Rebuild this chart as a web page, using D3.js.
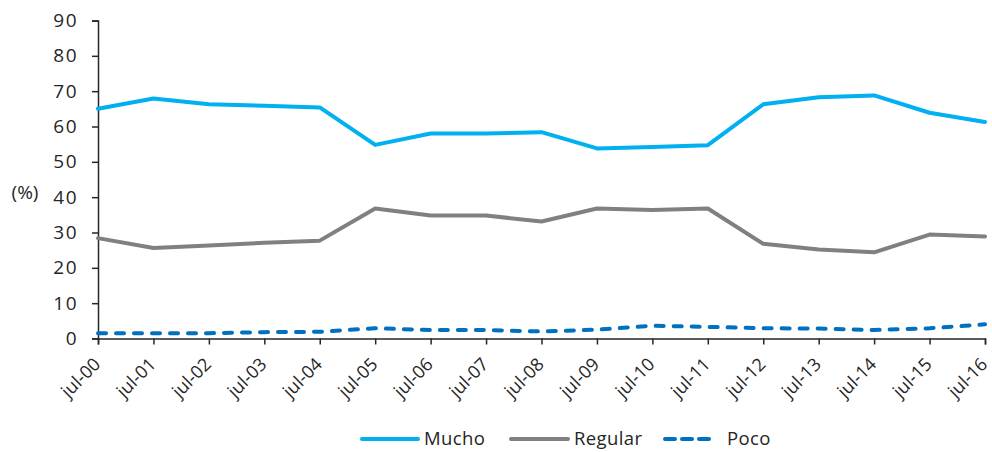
<!DOCTYPE html>
<html>
<head>
<meta charset="utf-8">
<script src="https://cdn.jsdelivr.net/npm/d3@7/dist/d3.min.js"></script>
<style>
  html, body { margin: 0; padding: 0; background: #fff; }
  svg { display: block; }
  text { font-family: "Open Sans", Lato, sans-serif; fill: #262626; }
</style>
</head>
<body>
<svg id="chart" width="992" height="452"></svg>
<script>
const categories = ["jul-00","jul-01","jul-02","jul-03","jul-04","jul-05","jul-06","jul-07","jul-08","jul-09","jul-10","jul-11","jul-12","jul-13","jul-14","jul-15","jul-16"];
const mucho   = [65.0, 67.9, 66.3, 65.9, 65.4, 54.8, 58.0, 58.0, 58.4, 53.8, 54.2, 54.7, 66.3, 68.3, 68.8, 63.9, 61.3];
const regular = [28.4, 25.6, 26.3, 27.1, 27.7, 36.8, 34.8, 34.8, 33.1, 36.8, 36.4, 36.8, 26.8, 25.2, 24.4, 29.4, 28.9];
const poco    = [1.5, 1.5, 1.5, 1.8, 1.9, 2.9, 2.4, 2.4, 2.0, 2.5, 3.6, 3.3, 2.9, 2.8, 2.4, 2.9, 4.0];
const yTicks  = [0, 10, 20, 30, 40, 50, 60, 70, 80, 90];
const seriesNames = ["Mucho", "Regular", "Poco"];

const series = [
  { name: seriesNames[0], values: mucho,   color: "#00B0F0", dash: null },
  { name: seriesNames[1], values: regular, color: "#808080", dash: null },
  { name: seriesNames[2], values: poco,    color: "#0070C0", dash: "8,10" }
];

const svg = d3.select("#chart");
const x = d3.scalePoint().domain(categories).range([98, 985]);
const y = d3.scaleLinear().domain([0, 90]).range([338.5, 20.5]);

// Y axis
const yAxis = svg.append("g").attr("transform", "translate(98,0)")
  .call(d3.axisLeft(y).tickValues(yTicks).tickSize(6).tickPadding(14));
yAxis.selectAll("text").style("font-size", "19px").style("letter-spacing", "1.5px");

// X axis
const xAxis = svg.append("g").attr("transform", "translate(0,338.5)")
  .call(d3.axisBottom(x).tickSize(6).tickPadding(4));
xAxis.selectAll("text")
  .style("font-size", "18px")
  .attr("text-anchor", "end")
  .attr("x", 0).attr("y", 0).attr("dy", "0")
  .attr("transform", "translate(3,27) rotate(-45)");

[yAxis, xAxis].forEach(a => {
  a.select(".domain").attr("stroke", "#262626").attr("stroke-width", 1.5);
  a.selectAll(".tick line").attr("stroke", "#262626").attr("stroke-width", 1.5);
});

// Unit label
svg.append("text").attr("x", 25).attr("y", 199).attr("text-anchor", "middle")
  .style("font-size", "19px").text("(%)");

// Lines
const line = d3.line().x((d, i) => x(categories[i])).y(d => y(d));
series.forEach(s => {
  svg.append("path").datum(s.values)
    .attr("fill", "none")
    .attr("stroke", s.color)
    .attr("stroke-width", 4)
    .attr("stroke-linecap", "round")
    .attr("stroke-linejoin", "round")
    .attr("stroke-dasharray", s.dash)
    .attr("d", line);
});

// Legend
const legendPos = [362, 511, 665];
const legendLen = [56, 57, 50];
series.forEach((s, i) => {
  const g = svg.append("g").attr("transform", `translate(${legendPos[i]},439)`);
  g.append("line").attr("x1", 0).attr("x2", legendLen[i]).attr("y1", 0).attr("y2", 0)
    .attr("stroke", s.color).attr("stroke-width", 4).attr("stroke-linecap", "round")
    .attr("stroke-dasharray", s.dash ? "10,7" : null);
  g.append("text").attr("x", legendLen[i] + (s.dash ? 12 : 6)).attr("y", 0).attr("dy", "0.35em")
    .style("font-size", "18.5px").style("letter-spacing", "0.4px").text(s.name);
});
</script>
</body>
</html>
